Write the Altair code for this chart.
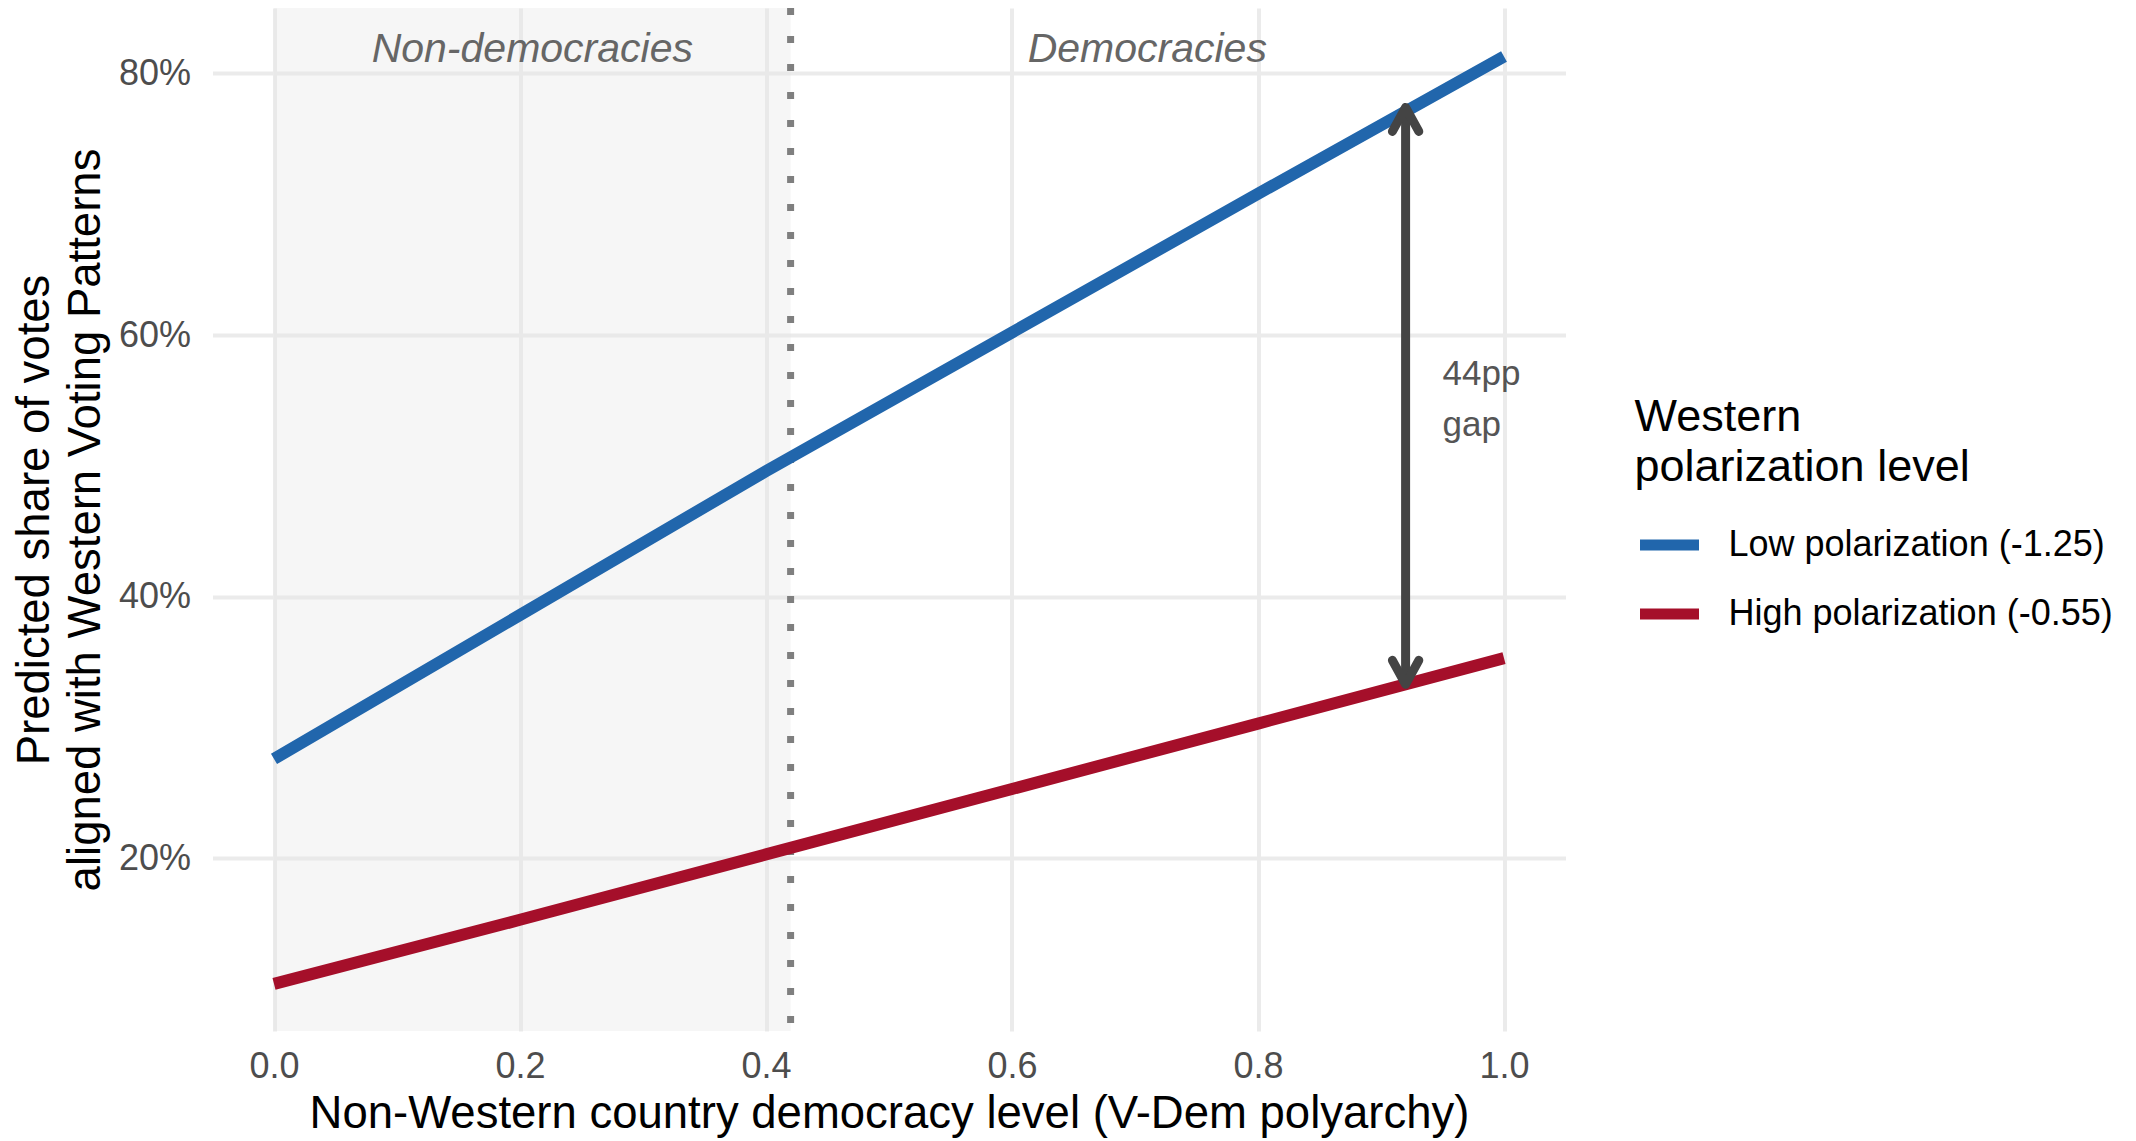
import altair as alt
import pandas as pd

# ---- data ----
x_vals = [0.0, 0.2, 0.4, 0.6, 0.8, 1.0]
low_vals = [0.276, 0.386, 0.496, 0.602, 0.708, 0.813]
high_vals = [0.104, 0.153, 0.203, 0.253, 0.303, 0.353]
series_names = ["Low polarization (-1.25)", "High polarization (-0.55)"]
series_colors = ["#2166AC", "#A50F2A"]

threshold = 0.42
region_labels = ["Non-democracies", "Democracies"]
region_x = [0.21, 0.71]
region_y = [0.809, 0.809]

gap_x = 0.92
gap_low = 0.333
gap_high = 0.774
gap_label = ["44pp", "gap"]
gap_label_x = 0.95
gap_label_y = 0.562

x_ticks = [0.0, 0.2, 0.4, 0.6, 0.8, 1.0]
y_ticks = [0.2, 0.4, 0.6, 0.8]

FONT = "Liberation Sans"

lines_df = pd.DataFrame(
    {
        "x": x_vals + x_vals,
        "y": low_vals + high_vals,
        "series": [series_names[0]] * len(x_vals) + [series_names[1]] * len(x_vals),
    }
)
rect_df = pd.DataFrame({"x": [0.0], "x2": [threshold]})
vline_df = pd.DataFrame({"x": [threshold]})
region_df = pd.DataFrame({"x": region_x, "y": region_y, "label": region_labels})
arrow_df = pd.DataFrame({"x": [gap_x], "y": [gap_low], "y2": [gap_high]})
head_up_df = pd.DataFrame({"x": [gap_x], "y": [gap_high]})
head_down_df = pd.DataFrame({"x": [gap_x], "y": [gap_low]})
gap_df = pd.DataFrame({"x": [gap_label_x], "y": [gap_label_y], "label": ["\n".join(gap_label)]})

xscale = alt.Scale(domain=[-0.05, 1.05], nice=False, zero=False)
yscale = alt.Scale(domain=[0.068, 0.85], nice=False, zero=False)

xaxis = alt.Axis(
    title="Non-Western country democracy level (V-Dem polyarchy)",
    values=x_ticks,
    format=".1f",
    labelPadding=18,
    titlePadding=7,
)
yaxis = alt.Axis(
    title=["Predicted share of votes", "aligned with Western Voting Patterns"],
    values=y_ticks,
    format=".0%",
    labelPadding=22,
    titlePadding=9,
    titleLineHeight=51,
)

X = alt.X("x:Q", scale=xscale, axis=xaxis)
Y = alt.Y("y:Q", scale=yscale, axis=yaxis)

rect = alt.Chart(rect_df).mark_rect(color="#E5E5E5", opacity=0.35).encode(
    x=alt.X("x:Q", scale=xscale, axis=xaxis), x2="x2:Q"
)

vline = alt.Chart(vline_df).mark_rule(
    color="#7F7F7F", strokeWidth=7, strokeDash=[7, 21]
).encode(x=alt.X("x:Q", scale=xscale, axis=xaxis))

lines = alt.Chart(lines_df).mark_line(strokeWidth=12).encode(
    x=X,
    y=Y,
    color=alt.Color(
        "series:N",
        scale=alt.Scale(domain=series_names, range=series_colors),
        legend=alt.Legend(
            title=["Western", "polarization level"],
            orient="none",
            legendX=1422,
            legendY=387,
        ),
    ),
)

shaft = alt.Chart(arrow_df).mark_rule(color="#444444", strokeWidth=9).encode(
    x=X, y=Y, y2="y2:Q"
)
head_up = alt.Chart(head_up_df).mark_point(
    shape="M -0.55 1 L 0 0 L 0.55 1",
    size=2304,
    filled=False,
    strokeWidth=9,
    color="#444444",
    opacity=1,
    strokeJoin="round",
    strokeCap="round",
).encode(x=X, y=Y)
head_down = alt.Chart(head_down_df).mark_point(
    shape="M -0.55 -1 L 0 0 L 0.55 -1",
    size=2304,
    filled=False,
    strokeWidth=9,
    color="#444444",
    opacity=1,
    strokeJoin="round",
    strokeCap="round",
).encode(x=X, y=Y)

regions = alt.Chart(region_df).mark_text(
    font=FONT, fontSize=41, fontStyle="italic", color="#666666",
    align="center", baseline="alphabetic",
).encode(x=X, y=Y, text="label:N")

gap_text = alt.Chart(gap_df).mark_text(
    font=FONT, fontSize=35, color="#555555", align="left",
    baseline="alphabetic", lineBreak="\n", lineHeight=51,
).encode(x=X, y=Y, text="label:N")

chart = (
    alt.layer(rect, vline, lines, shaft, head_up, head_down, regions, gap_text)
    .properties(
        width=1353,
        height=1023,
        autosize=alt.AutoSizeParams(type="none"),
        padding={"left": 204.5, "top": 0, "right": 562, "bottom": 112},
        background="white",
    )
    .configure_view(stroke=None)
    .configure_axis(
        grid=True,
        gridColor="#EBEBEB",
        gridWidth=4,
        domain=False,
        ticks=False,
        labelFont=FONT,
        labelFontSize=36,
        labelColor="#4D4D4D",
        titleFont=FONT,
        titleFontSize=45.5,
        titleFontWeight="normal",
        titleColor="#000000",
    )
    .configure_legend(
        symbolType="stroke",
        symbolSize=3481,
        symbolStrokeWidth=11,
        labelFont=FONT,
        labelFontSize=36,
        labelColor="#000000",
        labelOffset=24,
        labelLimit=0,
        titleFont=FONT,
        titleFontSize=45,
        titleFontWeight="normal",
        titleColor="#000000",
        titleLineHeight=50,
        titlePadding=20,
        titleLimit=0,
        rowPadding=12,
        padding=0,
    )
)

chart.save("out.html", embed_options={"renderer": "svg", "actions": False})
